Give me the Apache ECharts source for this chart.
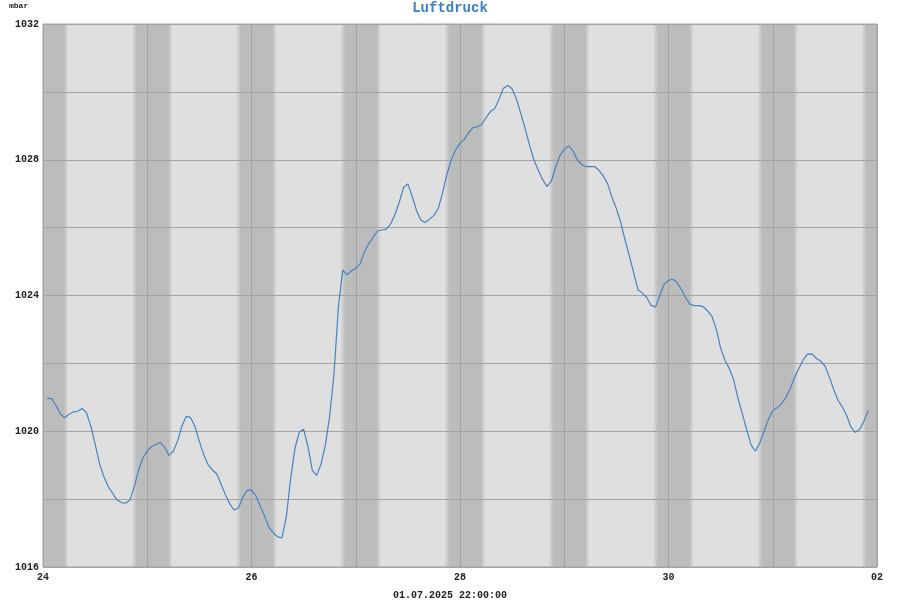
<!DOCTYPE html>
<html>
<head>
<meta charset="utf-8">
<script src="https://cdn.jsdelivr.net/npm/echarts@6/dist/echarts.min.js"></script>
<style>html,body{margin:0;padding:0;background:#fff}#c{width:900px;height:600px}</style>
</head>
<body>
<div id="c"></div>
<script>
// Hours since 24.06.2025 00:00, one sample per hour
const firstHour = 1;
const pressure = [
1020.97,1020.96,1020.76,1020.51,1020.40,1020.50,1020.57,1020.59,1020.67,1020.55,
1020.16,1019.62,1019.05,1018.67,1018.37,1018.18,1017.98,1017.90,1017.88,1017.97,
1018.36,1018.85,1019.21,1019.42,1019.55,1019.61,1019.67,1019.53,1019.29,1019.41,
1019.72,1020.16,1020.44,1020.40,1020.13,1019.70,1019.31,1019.02,1018.86,1018.75,
1018.44,1018.13,1017.86,1017.68,1017.74,1018.05,1018.26,1018.27,1018.10,1017.80,
1017.50,1017.17,1017.01,1016.89,1016.86,1017.46,1018.59,1019.50,1019.97,1020.06,
1019.55,1018.85,1018.70,1019.03,1019.59,1020.45,1021.70,1023.65,1024.75,1024.61,
1024.73,1024.80,1024.93,1025.29,1025.53,1025.72,1025.90,1025.93,1025.95,1026.10,
1026.38,1026.74,1027.18,1027.29,1026.92,1026.50,1026.22,1026.15,1026.25,1026.36,
1026.57,1027.03,1027.58,1028.00,1028.29,1028.49,1028.60,1028.80,1028.95,1028.97,
1029.04,1029.24,1029.42,1029.51,1029.79,1030.11,1030.19,1030.09,1029.79,1029.36,
1028.92,1028.43,1028.00,1027.70,1027.42,1027.21,1027.36,1027.78,1028.12,1028.30,
1028.41,1028.27,1028.00,1027.86,1027.80,1027.80,1027.80,1027.69,1027.52,1027.29,
1026.89,1026.56,1026.15,1025.64,1025.16,1024.66,1024.16,1024.07,1023.94,1023.71,
1023.66,1024.00,1024.33,1024.45,1024.48,1024.38,1024.17,1023.92,1023.74,1023.70,
1023.70,1023.67,1023.55,1023.39,1023.01,1022.45,1022.09,1021.85,1021.52,1020.97,
1020.51,1020.05,1019.60,1019.41,1019.65,1020.00,1020.35,1020.61,1020.69,1020.81,
1020.99,1021.25,1021.58,1021.85,1022.10,1022.27,1022.28,1022.15,1022.07,1021.93,
1021.61,1021.24,1020.92,1020.72,1020.47,1020.12,1019.97,1020.05,1020.30,1020.62
];
const dayLabels = ['24','25','26','27','28','29','30','01','02'];
const titleText = 'Luftdruck';
const unitText = 'mbar';
const footerText = '01.07.2025 22:00:00';
// night bands relative to each midnight (hours): fade start, dark start, dark end, fade end
const nightShape = [-3.6, -2.4, 4.85, 5.8];
const midnights = [0, 24, 48, 72, 96, 120, 144, 168, 192];

const lineData = pressure.map((v, i) => [firstHour + i, v]);
const bandData = [[0, 192, 0, 192, 0]];
midnights.forEach(m => bandData.push([m + nightShape[0], m + nightShape[3], m + nightShape[1], m + nightShape[2], 1]));

const LIGHT = '#dfdfdf', DARK = '#bcbcbc';
const font = '"Liberation Mono", "Courier New", monospace';

const chart = echarts.init(document.getElementById('c'), null, {renderer: 'canvas'});
chart.setOption({
  animation: false,
  backgroundColor: '#ffffff',
  title: [
    {text: titleText, left: 'center', top: 1, padding: 0, textStyle: {fontFamily: font, fontSize: 14, fontWeight: 'bold', color: '#3d80c0'}},
    {text: unitText, left: 9, top: 2, padding: 0, textStyle: {fontFamily: font, fontSize: 8, fontWeight: 'bold', color: '#222'}},
    {text: footerText, left: 'center', top: 590, padding: 0, textStyle: {fontFamily: font, fontSize: 10, fontWeight: 'bold', color: '#222'}}
  ],
  grid: {left: 43, right: 23, top: 24, bottom: 33, show: true, borderColor: '#a3a3a3', borderWidth: 1, backgroundColor: 'transparent'},
  xAxis: {
    type: 'value', min: 0, max: 192, interval: 24,
    axisLine: {show: false}, axisTick: {show: false},
    splitLine: {show: true, lineStyle: {color: '#a3a3a3', width: 1}},
    axisLabel: {
      margin: 5, fontFamily: font, fontSize: 10, fontWeight: 'bold', color: '#222',
      formatter: v => (v % 48 === 0 ? dayLabels[v / 24] : '')
    }
  },
  yAxis: {
    type: 'value', min: 1016, max: 1032, interval: 2,
    axisLine: {show: false}, axisTick: {show: false},
    splitLine: {show: true, lineStyle: {color: '#a3a3a3', width: 1}},
    axisLabel: {
      margin: 4, fontFamily: font, fontSize: 10, fontWeight: 'bold', color: '#222',
      formatter: v => ((v - 1016) % 4 === 0 ? String(v) : '')
    }
  },
  series: [
    {
      type: 'custom', z: -1, silent: true, data: bandData,
      renderItem: (params, api) => {
        const s = api.value(0), e = api.value(1), ds = api.value(2), de = api.value(3), kind = api.value(4);
        const cs = params.coordSys;
        const x0 = api.coord([s, 1024])[0], x1 = api.coord([e, 1024])[0];
        const r = echarts.graphic.clipRectByRect(
          {x: x0, y: cs.y, width: x1 - x0, height: cs.height},
          {x: cs.x, y: cs.y, width: cs.width, height: cs.height});
        if (!r) return null;
        let fill = LIGHT;
        if (kind === 1) {
          const f1 = (ds - s) / (e - s), f2 = (de - s) / (e - s);
          fill = new echarts.graphic.LinearGradient(x0, 0, x1, 0, [
            {offset: 0, color: LIGHT}, {offset: f1, color: DARK},
            {offset: f2, color: DARK}, {offset: 1, color: LIGHT}], true);
        }
        return {type: 'rect', shape: r, style: {fill: fill}};
      }
    },
    {
      type: 'line', data: lineData, showSymbol: false, symbol: 'none', z: 3,
      lineStyle: {color: '#4584c0', width: 1.2}
    }
  ]
});
</script>
</body>
</html>
